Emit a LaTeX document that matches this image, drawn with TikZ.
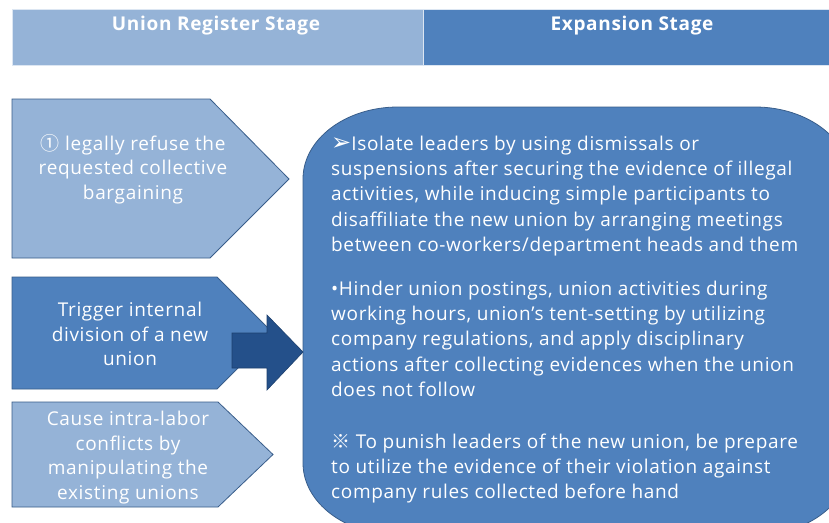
\documentclass[tikz,border=0pt]{standalone}
\usepackage{fontspec}
\setmainfont{Open Sans}[LetterSpace=3.5]
\newfontfamily\symfont{DejaVu Sans}
\newfontfamily\cjkfont{Noto Sans CJK KR}
\definecolor{lightblue}{HTML}{95B3D7}
\definecolor{midblue}{HTML}{4F81BD}
\definecolor{darkblue}{HTML}{24508A}
\definecolor{edgeblue}{HTML}{385D8A}
\definecolor{hdredge}{HTML}{DCE6F2}
\tikzset{
  hdrcell/.style={draw=hdredge, line width=1pt},
  hdrtext/.style={text=white, font=\fontsize{19}{22}\selectfont\bfseries, inner sep=0pt},
  pent/.style={draw=edgeblue, line width=0.8pt},
  lefttext/.style={text=white, align=center, inner sep=0pt, font=\fontsize{19}{24.5}\selectfont},
  bigbox/.style={fill=midblue, draw=edgeblue, line width=0.8pt},
  fatarrow/.style={fill=darkblue, draw=darkblue!80!black, line width=0.6pt},
  bodytext/.style={text=white, align=left, inner sep=0pt, anchor=north west, font=\fontsize{19}{25.3}\selectfont}
}
\begin{document}
\begin{tikzpicture}[x=1pt,y=-1pt]
\useasboundingbox (0,0) rectangle (829,522);
\clip (0,0) rectangle (829,522);
% header
\fill[white] (0,0) rectangle (829,522);
\draw[hdrcell, fill=lightblue] (12,9) rectangle (423,65);
\draw[hdrcell, fill=midblue] (423,9) rectangle (840,65);
\node[hdrtext] (hlt) at (216,26) {Union Register Stage};
\node[hdrtext] (hrt) at (632,26) {Expansion Stage};
% left pentagons
\draw[pent, fill=lightblue] (12,99) -- (210,99) -- (289,179) -- (210,258) -- (12,258) -- cycle;
\draw[pent, fill=midblue] (12,277) -- (217,277) -- (273,333) -- (217,389) -- (12,389) -- cycle;
\draw[pent, fill=lightblue] (12,402) -- (218,402) -- (273,454.5) -- (218,507) -- (12,507) -- cycle;
\node[lefttext] (t1) at (133,169) {{\cjkfont ①} legally refuse the\\requested collective\\bargaining};
\node[lefttext] (t2) at (130,334) {Trigger internal\\division of a new\\union};
\node[lefttext] (t3) at (128,457.5) {Cause intra-labor\\conflicts by\\manipulating the\\existing unions};
% big rounded box
\draw[bigbox] (303,179) arc[start angle=180, end angle=270, x radius=95, y radius=72]
  -- (755,107) arc[start angle=270, end angle=360, x radius=95, y radius=72]
  -- (850,463) arc[start angle=0, end angle=90, x radius=95, y radius=72]
  -- (398,535) arc[start angle=90, end angle=180, x radius=95, y radius=72] -- cycle;
% fat arrow
\draw[fatarrow] (232,333) -- (267,333) -- (267,315) -- (303,352) -- (267,390) -- (267,368) -- (232,368) -- cycle;
% body text
\node[bodytext] (p1) at (331,134) {\rule{0pt}{16pt}{\symfont\fontsize{24}{20}\selectfont ➢}Isolate leaders by using dismissals or\\suspensions after securing the evidence of illegal\\activities, while inducing simple participants to\\disaffiliate the new union by arranging meetings\\between co-workers/department heads and them};
\node[bodytext] (p2) at (331,279) {\rule{0pt}{16pt}•Hinder union postings, union activities during\\working hours, union’s tent-setting by utilizing\\company regulations, and apply disciplinary\\actions after collecting evidences when the union\\does not follow};
\node[bodytext] (p3) at (331,432) {\rule{0pt}{16pt}{\cjkfont ※} To punish leaders of the new union, be prepare\\to utilize the evidence of their violation against\\company rules collected before hand};
\end{tikzpicture}
\end{document}
